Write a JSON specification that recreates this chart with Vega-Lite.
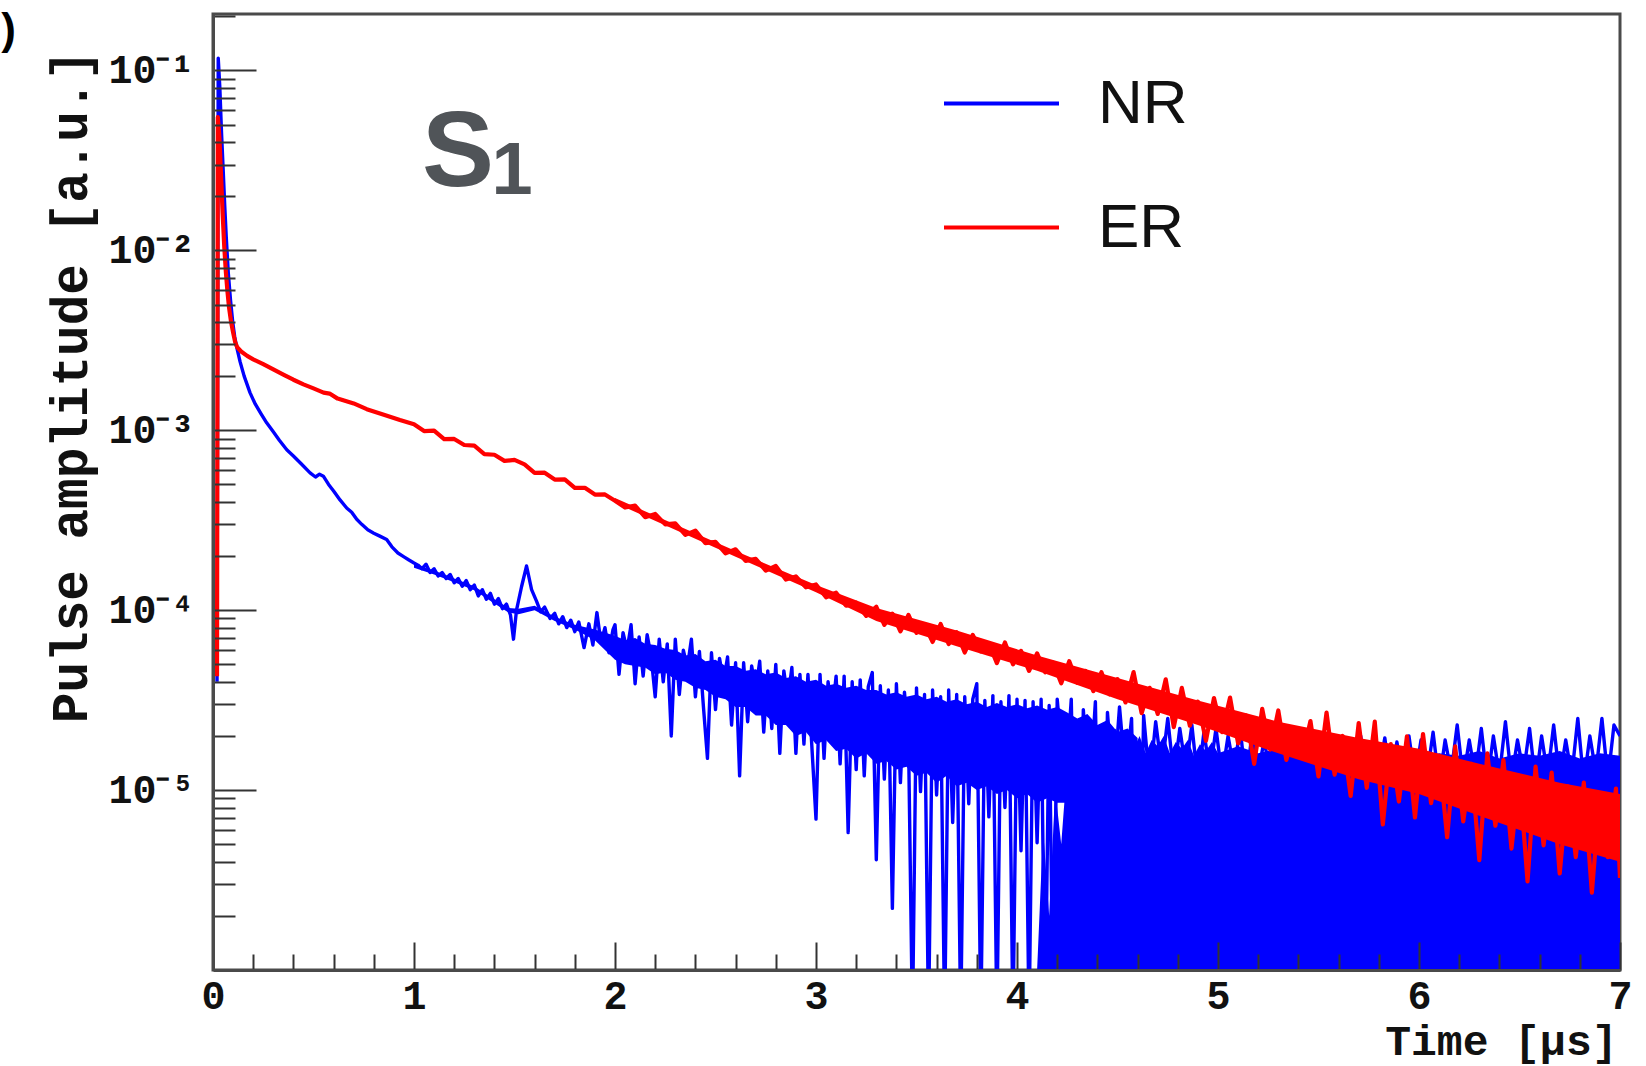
{
  "$schema": "https://vega.github.io/schema/vega-lite/v6.json",
  "width": 1407,
  "height": 956,
  "autosize": {"type": "none"},
  "padding": {"left": 213, "top": 14, "right": 26, "bottom": 96},
  "background": "#ffffff",
  "config": {"view": {"stroke": "#4a4a4a", "strokeWidth": 3}},
  "datasets": {
    "nr": [
      {"t":0.02,"v":4.0e-5},{"t":0.026,"v":0.117},{"t":0.034,"v":0.08},{"t":0.042,"v":0.046},{"t":0.05,"v":0.029},{"t":0.058,"v":0.018},{"t":0.066,"v":0.0118},{"t":0.076,"v":0.0075},{"t":0.087,"v":0.0053},{"t":0.098,"v":0.004},{"t":0.108,"v":0.0033},{"t":0.118,"v":0.0029},{"t":0.135,"v":0.0024},{"t":0.155,"v":0.002},{"t":0.184,"v":0.00162},{"t":0.21,"v":0.0014},{"t":0.24,"v":0.00123},{"t":0.267,"v":0.0011},{"t":0.3,"v":0.00098},{"t":0.33,"v":0.00088},{"t":0.367,"v":0.00078},{"t":0.4,"v":0.00072},{"t":0.44,"v":0.00065},{"t":0.483,"v":0.00058},{"t":0.51,"v":0.00055},{"t":0.53,"v":0.00057},{"t":0.549,"v":0.000556},{"t":0.575,"v":0.0005},{"t":0.6,"v":0.00046},{"t":0.632,"v":0.00041},{"t":0.665,"v":0.00037},{"t":0.69,"v":0.00035},{"t":0.715,"v":0.00032},{"t":0.74,"v":0.0003},{"t":0.77,"v":0.00028},{"t":0.8,"v":0.000268},{"t":0.83,"v":0.000258},{"t":0.864,"v":0.000247},{"t":0.89,"v":0.000225},{"t":0.92,"v":0.000208},{"t":0.95,"v":0.000198},{"t":0.975,"v":0.00019},{"t":1.0,"v":0.000183},
      {"t":1.02,"v":1.78e-4},{"t":1.04,"v":1.70e-4},{"t":1.06,"v":1.80e-4},{"t":1.08,"v":1.62e-4},{"t":1.10,"v":1.70e-4},{"t":1.12,"v":1.55e-4},{"t":1.14,"v":1.62e-4},{"t":1.16,"v":1.50e-4},{"t":1.18,"v":1.58e-4},{"t":1.20,"v":1.42e-4},{"t":1.22,"v":1.50e-4},{"t":1.24,"v":1.36e-4},{"t":1.26,"v":1.46e-4},{"t":1.28,"v":1.30e-4},{"t":1.30,"v":1.38e-4},{"t":1.32,"v":1.20e-4},{"t":1.34,"v":1.30e-4},{"t":1.36,"v":1.15e-4},{"t":1.38,"v":1.24e-4},{"t":1.40,"v":1.08e-4},{"t":1.42,"v":1.16e-4},{"t":1.44,"v":1.02e-4},{"t":1.46,"v":1.08e-4},{"t":1.48,"v":9.4e-5},{"t":1.495,"v":6.9e-5},{"t":1.51,"v":1.0e-4},{"t":1.535,"v":1.35e-4},{"t":1.56,"v":1.76e-4},{"t":1.585,"v":1.30e-4},{"t":1.61,"v":1.12e-4},{"t":1.63,"v":9.8e-5},{"t":1.65,"v":1.04e-4},{"t":1.677,"v":9.0e-5},{"t":1.70,"v":9.6e-5},{"t":1.72,"v":8.4e-5},{"t":1.74,"v":9.2e-5},{"t":1.76,"v":8.0e-5},{"t":1.78,"v":8.8e-5},{"t":1.80,"v":7.6e-5},{"t":1.82,"v":8.6e-5},{"t":1.846,"v":6.2e-5},{"t":1.87,"v":8.4e-5},{"t":1.89,"v":6.4e-5},{"t":1.91,"v":9.7e-5},{"t":1.93,"v":6.6e-5},{"t":1.95,"v":8.0e-5},{"t":1.97,"v":5.8e-5},{"t":1.99,"v":7.8e-5},
      {"t":2.0,"v":8.3e-5},{"t":2.02,"v":4.4e-5},{"t":2.04,"v":7.5e-5},{"t":2.06,"v":6.0e-5},{"t":2.08,"v":8.3e-5},{"t":2.1,"v":3.9e-5},{"t":2.12,"v":7.1e-5},{"t":2.14,"v":4.3e-5},{"t":2.16,"v":7.3e-5},{"t":2.18,"v":5.5e-5},{"t":2.2,"v":3.3e-5},{"t":2.22,"v":6.9e-5},{"t":2.24,"v":4.0e-5},{"t":2.26,"v":6.5e-5},{"t":2.28,"v":2.0e-5},{"t":2.3,"v":6.9e-5},{"t":2.32,"v":3.4e-5},{"t":2.34,"v":6.0e-5},{"t":2.36,"v":4.8e-5},{"t":2.38,"v":6.9e-5},{"t":2.4,"v":3.3e-5},{"t":2.42,"v":5.9e-5},{"t":2.44,"v":2.9e-5},{"t":2.46,"v":1.5e-5},{"t":2.48,"v":5.8e-5},{"t":2.5,"v":2.8e-5},{"t":2.52,"v":5.4e-5},{"t":2.54,"v":4.0e-5},{"t":2.56,"v":5.5e-5},{"t":2.58,"v":2.3e-5},{"t":2.6,"v":5.1e-5},{"t":2.62,"v":1.2e-5},{"t":2.64,"v":5.1e-5},{"t":2.66,"v":2.4e-5},{"t":2.68,"v":4.9e-5},{"t":2.7,"v":3.6e-5},{"t":2.72,"v":5.2e-5},{"t":2.74,"v":2.1e-5},{"t":2.76,"v":4.6e-5},{"t":2.78,"v":2.2e-5},{"t":2.8,"v":5.0e-5},{"t":2.82,"v":1.6e-5},{"t":2.84,"v":4.6e-5},{"t":2.86,"v":3.2e-5},{"t":2.88,"v":4.8e-5},{"t":2.9,"v":1.6e-5},{"t":2.92,"v":4.4e-5},{"t":2.94,"v":1.8e-5},{"t":2.96,"v":4.4e-5},{"t":2.98,"v":1.7e-5},{"t":3.0,"v":6.9e-6},{"t":3.02,"v":4.4e-5},{"t":3.04,"v":1.5e-5},{"t":3.06,"v":4.0e-5},{"t":3.08,"v":2.6e-5},{"t":3.1,"v":4.3e-5},{"t":3.12,"v":1.4e-5},{"t":3.14,"v":4.3e-5},{"t":3.16,"v":5.8e-6},{"t":3.18,"v":4.0e-5},{"t":3.2,"v":1.3e-5},{"t":3.22,"v":4.1e-5},{"t":3.24,"v":1.2e-5},{"t":3.26,"v":3.75e-5},{"t":3.28,"v":4.5e-5},{"t":3.3,"v":4.1e-6},{"t":3.32,"v":3.8e-5},{"t":3.34,"v":1.15e-5},{"t":3.36,"v":3.6e-5},{"t":3.38,"v":2.2e-6},{"t":3.4,"v":3.9e-5},{"t":3.42,"v":1.1e-5},{"t":3.44,"v":3.5e-5},{"t":3.46,"v":2.0e-5},{"t":3.48,"v":5e-7},{"t":3.5,"v":3.7e-5},{"t":3.52,"v":9.8e-6},{"t":3.54,"v":3.4e-5},{"t":3.56,"v":5e-7},{"t":3.58,"v":3.6e-5},{"t":3.6,"v":9.4e-6},{"t":3.62,"v":3.3e-5},{"t":3.64,"v":5e-7},{"t":3.66,"v":3.6e-5},{"t":3.68,"v":6.6e-6},{"t":3.7,"v":3.4e-5},{"t":3.72,"v":5e-7},{"t":3.74,"v":3.3e-5},{"t":3.76,"v":8.4e-6},{"t":3.78,"v":3.2e-5},{"t":3.8,"v":3.9e-5},{"t":3.82,"v":5e-7},{"t":3.84,"v":3.15e-5},{"t":3.86,"v":7.1e-6},{"t":3.88,"v":3.35e-5},{"t":3.9,"v":5e-7},{"t":3.92,"v":3.1e-5},{"t":3.94,"v":8.0e-6},{"t":3.96,"v":3.35e-5},{"t":3.98,"v":5e-7},{"t":4.0,"v":3.2e-5},{"t":4.02,"v":4.6e-6},{"t":4.04,"v":3.15e-5},{"t":4.06,"v":5e-7},{"t":4.08,"v":3.1e-5},{"t":4.1,"v":5.1e-6},{"t":4.12,"v":3.2e-5},{"t":4.14,"v":5e-7},{"t":4.16,"v":2.95e-5},{"t":4.18,"v":5e-7},{"t":4.2,"v":3.2e-5},
      {"t":4.24,"v":1.0e-5},{"t":4.27,"v":3.2e-5},{"t":4.3,"v":5e-7},{"t":4.33,"v":2.8e-5},{"t":4.36,"v":9.0e-6},{"t":4.39,"v":3.1e-5},{"t":4.42,"v":5e-7},{"t":4.45,"v":2.7e-5},{"t":4.48,"v":1.0e-5},{"t":4.51,"v":2.9e-5},{"t":4.54,"v":1.2e-5},{"t":4.57,"v":2.5e-5},{"t":4.6,"v":5e-7},{"t":4.63,"v":2.6e-5},{"t":4.66,"v":1.1e-5},{"t":4.69,"v":2.4e-5},{"t":4.72,"v":1.3e-5},{"t":4.75,"v":2.5e-5},{"t":4.78,"v":1.2e-5},{"t":4.81,"v":2.2e-5},{"t":4.84,"v":1.3e-5},{"t":4.87,"v":2.3e-5},{"t":4.9,"v":1.1e-5},{"t":4.93,"v":2.1e-5},{"t":4.96,"v":1.25e-5},{"t":4.99,"v":2.2e-5},{"t":5.02,"v":1.2e-5},{"t":5.05,"v":2.0e-5},{"t":5.08,"v":1.3e-5},{"t":5.11,"v":2.2e-5},{"t":5.14,"v":1.1e-5},{"t":5.17,"v":2.1e-5},{"t":5.2,"v":1.25e-5},{"t":5.23,"v":1.9e-5},{"t":5.26,"v":1.2e-5},{"t":5.29,"v":2.1e-5},{"t":5.32,"v":1.15e-5},{"t":5.35,"v":2.0e-5},{"t":5.38,"v":1.3e-5},{"t":5.41,"v":1.9e-5},{"t":5.44,"v":1.1e-5},{"t":5.47,"v":2.1e-5},{"t":5.5,"v":1.2e-5},{"t":5.53,"v":1.9e-5},{"t":5.56,"v":1.25e-5},{"t":5.59,"v":2.0e-5},{"t":5.62,"v":1.1e-5},{"t":5.65,"v":1.85e-5},{"t":5.68,"v":1.2e-5},{"t":5.71,"v":2.0e-5},{"t":5.74,"v":1.15e-5},{"t":5.77,"v":1.9e-5},{"t":5.8,"v":1.25e-5},{"t":5.83,"v":1.95e-5},{"t":5.86,"v":1.1e-5},{"t":5.89,"v":1.85e-5},{"t":5.92,"v":1.2e-5},{"t":5.95,"v":2.0e-5},{"t":5.98,"v":1.15e-5},{"t":6.01,"v":1.9e-5},{"t":6.04,"v":1.2e-5},{"t":6.07,"v":2.1e-5},{"t":6.1,"v":1.1e-5},{"t":6.13,"v":1.9e-5},{"t":6.16,"v":1.25e-5},{"t":6.19,"v":2.3e-5},{"t":6.22,"v":1.15e-5},{"t":6.25,"v":1.9e-5},{"t":6.28,"v":1.2e-5},{"t":6.31,"v":2.2e-5},{"t":6.34,"v":1.1e-5},{"t":6.37,"v":2.0e-5},{"t":6.4,"v":1.2e-5},{"t":6.43,"v":2.4e-5},{"t":6.46,"v":1.15e-5},{"t":6.49,"v":1.9e-5},{"t":6.52,"v":1.25e-5},{"t":6.55,"v":2.2e-5},{"t":6.58,"v":1.1e-5},{"t":6.61,"v":2.0e-5},{"t":6.64,"v":1.2e-5},{"t":6.67,"v":2.3e-5},{"t":6.7,"v":1.15e-5},{"t":6.73,"v":1.9e-5},{"t":6.76,"v":1.2e-5},{"t":6.79,"v":2.5e-5},{"t":6.82,"v":1.1e-5},{"t":6.85,"v":2.0e-5},{"t":6.88,"v":1.25e-5},{"t":6.91,"v":2.5e-5},{"t":6.94,"v":1.15e-5},{"t":6.97,"v":2.3e-5},{"t":7.0,"v":2.0e-5}
    ],
    "nrband": [
      {"t":1.0,"v":1.8e-4,"v2":1.72e-4},{"t":1.1,"v":1.66e-4,"v2":1.58e-4},{"t":1.2,"v":1.5e-4,"v2":1.43e-4},{"t":1.3,"v":1.36e-4,"v2":1.29e-4},{"t":1.4,"v":1.15e-4,"v2":1.09e-4},{"t":1.47,"v":1.03e-4,"v2":9.7e-5},{"t":1.52,"v":1.02e-4,"v2":9.5e-5},{"t":1.6,"v":1.06e-4,"v2":1.0e-4},{"t":1.7,"v":9.2e-5,"v2":8.7e-5},{"t":1.8,"v":8.3e-5,"v2":7.8e-5},{"t":1.9,"v":7.8e-5,"v2":6.8e-5},
      {"t":2.0,"v":7.2e-5,"v2":5.3e-5},{"t":2.05,"v":6.8e-5,"v2":5.0e-5},{"t":2.1,"v":7.0e-5,"v2":4.9e-5},{"t":2.15,"v":6.5e-5,"v2":4.8e-5},{"t":2.2,"v":6.4e-5,"v2":4.4e-5},{"t":2.25,"v":6.1e-5,"v2":4.5e-5},{"t":2.3,"v":6.0e-5,"v2":4.1e-5},{"t":2.35,"v":5.6e-5,"v2":4.0e-5},{"t":2.4,"v":5.7e-5,"v2":3.7e-5},{"t":2.45,"v":5.2e-5,"v2":3.6e-5},{"t":2.5,"v":5.3e-5,"v2":3.3e-5},{"t":2.55,"v":4.9e-5,"v2":3.2e-5},{"t":2.6,"v":4.9e-5,"v2":2.9e-5},{"t":2.65,"v":4.6e-5,"v2":2.9e-5},{"t":2.7,"v":4.7e-5,"v2":2.6e-5},{"t":2.75,"v":4.4e-5,"v2":2.6e-5},{"t":2.8,"v":4.5e-5,"v2":2.3e-5},{"t":2.85,"v":4.2e-5,"v2":2.3e-5},{"t":2.9,"v":4.3e-5,"v2":2.0e-5},{"t":2.95,"v":4.0e-5,"v2":2.1e-5},{"t":3.0,"v":4.1e-5,"v2":1.8e-5},{"t":3.05,"v":3.8e-5,"v2":1.9e-5},{"t":3.1,"v":3.9e-5,"v2":1.65e-5},{"t":3.15,"v":3.7e-5,"v2":1.7e-5},{"t":3.2,"v":3.8e-5,"v2":1.5e-5},{"t":3.25,"v":3.6e-5,"v2":1.6e-5},{"t":3.3,"v":3.6e-5,"v2":1.4e-5},{"t":3.35,"v":3.4e-5,"v2":1.45e-5},{"t":3.4,"v":3.5e-5,"v2":1.3e-5},{"t":3.45,"v":3.3e-5,"v2":1.35e-5},{"t":3.5,"v":3.4e-5,"v2":1.2e-5},{"t":3.55,"v":3.2e-5,"v2":1.25e-5},{"t":3.6,"v":3.3e-5,"v2":1.1e-5},{"t":3.65,"v":3.1e-5,"v2":1.2e-5},{"t":3.7,"v":3.2e-5,"v2":1.05e-5},{"t":3.75,"v":3.0e-5,"v2":1.1e-5},{"t":3.8,"v":3.1e-5,"v2":1.0e-5},{"t":3.85,"v":2.9e-5,"v2":1.05e-5},{"t":3.9,"v":3.05e-5,"v2":9.5e-6},{"t":3.95,"v":2.9e-5,"v2":1.0e-5},{"t":4.0,"v":3.0e-5,"v2":9.0e-6},{"t":4.05,"v":2.85e-5,"v2":9.5e-6},{"t":4.1,"v":2.95e-5,"v2":8.5e-6},{"t":4.15,"v":2.8e-5,"v2":9.0e-6},{"t":4.2,"v":2.9e-5,"v2":8.5e-6},{"t":4.25,"v":2.7e-5,"v2":8.5e-6},{"t":4.3,"v":2.5e-5,"v2":9.0e-6},{"t":4.35,"v":2.65e-5,"v2":9.5e-6},{"t":4.4,"v":2.3e-5,"v2":1.0e-5},{"t":4.45,"v":2.45e-5,"v2":1.05e-5},{"t":4.5,"v":2.1e-5,"v2":1.1e-5},{"t":4.55,"v":2.2e-5,"v2":1.2e-5},{"t":4.6,"v":1.95e-5,"v2":1.3e-5}
    ],
    "nrfill": [
      {"t":4.1,"v":1.0e-6},{"t":4.13,"v":6.0e-6},{"t":4.16,"v":2.0e-6},{"t":4.19,"v":1.0e-5},{"t":4.22,"v":5.0e-6},{"t":4.25,"v":1.4e-5},{"t":4.28,"v":8.0e-6},{"t":4.31,"v":1.8e-5},{"t":4.34,"v":1.2e-5},{"t":4.37,"v":2.1e-5},{"t":4.4,"v":1.6e-5},{"t":4.43,"v":2.3e-5},{"t":4.46,"v":1.9e-5},{"t":4.49,"v":2.2e-5},{"t":4.52,"v":1.8e-5},{"t":4.55,"v":2.1e-5},{"t":4.58,"v":1.7e-5},{"t":4.61,"v":2.0e-5},{"t":4.64,"v":1.6e-5},{"t":4.67,"v":1.9e-5},{"t":4.7,"v":1.75e-5},{"t":4.73,"v":2.0e-5},{"t":4.76,"v":1.6e-5},{"t":4.79,"v":1.85e-5},{"t":4.82,"v":1.7e-5},{"t":4.85,"v":1.9e-5},{"t":4.88,"v":1.55e-5},{"t":4.91,"v":1.8e-5},{"t":4.94,"v":1.65e-5},{"t":4.97,"v":1.85e-5},{"t":5.0,"v":1.6e-5},{"t":5.1,"v":1.75e-5},{"t":5.2,"v":1.6e-5},{"t":5.3,"v":1.7e-5},{"t":5.4,"v":1.55e-5},{"t":5.5,"v":1.65e-5},{"t":5.6,"v":1.5e-5},{"t":5.7,"v":1.6e-5},{"t":5.8,"v":1.5e-5},{"t":5.9,"v":1.6e-5},{"t":6.0,"v":1.5e-5},{"t":6.1,"v":1.6e-5},{"t":6.2,"v":1.55e-5},{"t":6.3,"v":1.65e-5},{"t":6.4,"v":1.5e-5},{"t":6.5,"v":1.6e-5},{"t":6.6,"v":1.55e-5},{"t":6.7,"v":1.65e-5},{"t":6.8,"v":1.5e-5},{"t":6.9,"v":1.6e-5},{"t":7.0,"v":1.55e-5}
    ],
    "er": [
      {"t":0.02,"v":4.3e-5},{"t":0.024,"v":0.055},{"t":0.032,"v":0.042},{"t":0.04,"v":0.026},{"t":0.048,"v":0.016},{"t":0.056,"v":0.0105},{"t":0.064,"v":0.0076},{"t":0.072,"v":0.0059},{"t":0.08,"v":0.0048},{"t":0.09,"v":0.004},{"t":0.1,"v":0.0035},{"t":0.11,"v":0.0031},{"t":0.12,"v":0.0029},{"t":0.14,"v":0.00274},{"t":0.17,"v":0.00259},{"t":0.2,"v":0.00248},{"t":0.25,"v":0.00233},{"t":0.3,"v":0.00218},{"t":0.35,"v":0.00204},{"t":0.4,"v":0.00191},{"t":0.45,"v":0.0018},{"t":0.5,"v":0.00171},{"t":0.55,"v":0.00162},{"t":0.58,"v":0.0016},{"t":0.62,"v":0.0015},{"t":0.7,"v":0.00141},{"t":0.765,"v":0.00131},{"t":0.85,"v":0.00122},{"t":0.93,"v":0.00114},
      {"t":1.0,"v":1.081e-3},{"t":1.05,"v":9.9e-4},{"t":1.1,"v":9.95e-4},{"t":1.15,"v":8.92e-4},{"t":1.2,"v":8.95e-4},{"t":1.25,"v":8.28e-4},{"t":1.3,"v":8.21e-4},{"t":1.35,"v":7.37e-4},{"t":1.4,"v":7.31e-4},{"t":1.45,"v":6.76e-4},{"t":1.5,"v":6.84e-4},{"t":1.55,"v":6.46e-4},{"t":1.6,"v":5.8e-4},{"t":1.65,"v":5.81e-4},{"t":1.7,"v":5.32e-4},{"t":1.75,"v":5.34e-4},{"t":1.8,"v":4.78e-4},{"t":1.85,"v":4.79e-4},{"t":1.9,"v":4.39e-4},{"t":1.95,"v":4.4e-4},{"t":2.0,"v":4.06e-4},{"t":2.05,"v":3.72e-4},{"t":2.1,"v":3.81e-4},{"t":2.15,"v":3.29e-4},{"t":2.2,"v":3.43e-4},{"t":2.25,"v":3.0e-4},{"t":2.3,"v":3.04e-4},{"t":2.35,"v":2.62e-4},{"t":2.4,"v":2.77e-4},{"t":2.45,"v":2.36e-4},{"t":2.5,"v":2.4e-4},{"t":2.55,"v":2.07e-4},{"t":2.6,"v":2.18e-4},{"t":2.65,"v":1.88e-4},{"t":2.7,"v":1.93e-4},{"t":2.75,"v":1.66e-4},{"t":2.8,"v":1.76e-4},{"t":2.85,"v":1.48e-4},{"t":2.9,"v":1.54e-4},{"t":2.95,"v":1.34e-4},{"t":3.0,"v":1.39e-4},{"t":3.05,"v":1.18e-4},{"t":3.1,"v":1.25e-4},{"t":3.15,"v":1.06e-4},{"t":3.2,"v":1.1e-4},{"t":3.25,"v":9.3e-5},
      {"t":3.3,"v":1.045e-4},{"t":3.34,"v":8.29e-5},{"t":3.38,"v":9.56e-5},{"t":3.42,"v":7.62e-5},{"t":3.46,"v":9.41e-5},{"t":3.5,"v":7.49e-5},{"t":3.54,"v":8.3e-5},{"t":3.58,"v":6.66e-5},{"t":3.62,"v":8.38e-5},{"t":3.66,"v":6.48e-5},{"t":3.7,"v":7.54e-5},{"t":3.74,"v":5.82e-5},{"t":3.78,"v":7.28e-5},{"t":3.82,"v":5.91e-5},{"t":3.86,"v":6.54e-5},{"t":3.9,"v":5.08e-5},{"t":3.94,"v":6.61e-5},{"t":3.98,"v":5.0e-5},{"t":4.02,"v":5.94e-5},{"t":4.06,"v":4.6e-5},{"t":4.1,"v":5.75e-5},{"t":4.14,"v":4.52e-5},{"t":4.18,"v":5.11e-5},{"t":4.22,"v":3.92e-5},{"t":4.26,"v":5.21e-5},{"t":4.3,"v":3.95e-5},{"t":4.34,"v":4.6e-5},{"t":4.38,"v":3.55e-5},{"t":4.42,"v":4.52e-5},{"t":4.46,"v":3.41e-5},{"t":4.5,"v":4.14e-5},
      {"t":4.54,"v":3.07e-5},{"t":4.58,"v":4.53e-5},{"t":4.62,"v":2.68e-5},{"t":4.66,"v":3.7e-5},{"t":4.7,"v":2.65e-5},{"t":4.74,"v":4.13e-5},{"t":4.78,"v":2.24e-5},{"t":4.82,"v":3.7e-5},{"t":4.86,"v":2.28e-5},{"t":4.9,"v":3.1e-5},{"t":4.94,"v":1.88e-5},{"t":4.98,"v":3.25e-5},{"t":5.02,"v":2.1e-5},{"t":5.06,"v":3.27e-5},{"t":5.1,"v":1.82e-5},{"t":5.14,"v":2.6e-5},{"t":5.18,"v":1.4e-5},{"t":5.22,"v":2.83e-5},{"t":5.26,"v":1.68e-5},{"t":5.3,"v":2.77e-5},{"t":5.34,"v":1.47e-5},{"t":5.38,"v":2.2e-5},{"t":5.42,"v":1.54e-5},{"t":5.46,"v":2.42e-5},{"t":5.5,"v":1.19e-5},
      {"t":5.54,"v":2.7e-5},{"t":5.58,"v":1.22e-5},{"t":5.62,"v":2.0e-5},{"t":5.66,"v":9.28e-6},{"t":5.7,"v":2.36e-5},{"t":5.74,"v":1.03e-5},{"t":5.78,"v":2.4e-5},{"t":5.82,"v":6.44e-6},{"t":5.86,"v":1.8e-5},{"t":5.9,"v":8.64e-6},{"t":5.94,"v":1.99e-5},{"t":5.98,"v":7.04e-6},{"t":6.02,"v":2.05e-5},{"t":6.06,"v":8.47e-6},{"t":6.1,"v":1.55e-5},{"t":6.14,"v":5.47e-6},{"t":6.18,"v":1.75e-5},{"t":6.22,"v":6.7e-6},{"t":6.26,"v":1.4e-5},{"t":6.3,"v":4.08e-6},{"t":6.34,"v":1.6e-5},{"t":6.38,"v":6.34e-6},{"t":6.42,"v":1.47e-5},{"t":6.46,"v":4.73e-6},{"t":6.5,"v":1.2e-5},{"t":6.54,"v":3.11e-6},{"t":6.58,"v":1.35e-5},{"t":6.62,"v":4.93e-6},{"t":6.66,"v":1.25e-5},{"t":6.7,"v":3.44e-6},{"t":6.74,"v":1.05e-5},{"t":6.78,"v":4.24e-6},{"t":6.82,"v":1.1e-5},{"t":6.86,"v":2.69e-6},{"t":6.9,"v":9.5e-6},{"t":6.94,"v":4.24e-6},{"t":6.98,"v":1.02e-5},{"t":7.0,"v":3.25e-6}
    ],
    "erband": [
      {"t":2.0,"v":4.2e-4,"v2":3.95e-4},{"t":2.6,"v":2.13e-4,"v2":1.98e-4},{"t":3.0,"v":1.38e-4,"v2":1.26e-4},{"t":3.3,"v":1.03e-4,"v2":8.7e-5},{"t":3.7,"v":7.7e-5,"v2":6.3e-5},{"t":4.1,"v":5.6e-5,"v2":4.6e-5},{"t":4.5,"v":4.2e-5,"v2":3.2e-5},{"t":4.9,"v":3.15e-5,"v2":2.3e-5},{"t":5.3,"v":2.4e-5,"v2":1.6e-5},{"t":5.7,"v":1.95e-5,"v2":1.15e-5},{"t":6.0,"v":1.7e-5,"v2":9.5e-6},{"t":6.3,"v":1.4e-5,"v2":7.2e-6},{"t":6.7,"v":1.1e-5,"v2":5.0e-6},{"t":7.0,"v":9.5e-6,"v2":4.0e-6}
    ]
  },
  "encoding": {
    "x": {
      "field": "t", "type": "quantitative",
      "scale": {"domain": [0, 7], "nice": false, "zero": false},
      "axis": {
        "title": "Time [µs]",
        "values": [0,0.2,0.4,0.6,0.8,1,1.2,1.4,1.6,1.8,2,2.2,2.4,2.6,2.8,3,3.2,3.4,3.6,3.8,4,4.2,4.4,4.6,4.8,5,5.2,5.4,5.6,5.8,6,6.2,6.4,6.6,6.8,7],
        "labelExpr": "abs(datum.value - round(datum.value)) < 0.001 ? format(datum.value, 'd') : ''",
        "tickSize": {"condition": {"test": "abs(datum.value - round(datum.value)) < 0.001", "value": -28}, "value": -16},
        "tickColor": "#333333", "tickWidth": 2,
        "domain": true, "domainColor": "#4a4a4a", "domainWidth": 3,
        "grid": false,
        "labelFont": "Liberation Mono", "labelFontWeight": "bold", "labelFontSize": 40, "labelColor": "#111111",
        "labelPadding": 34, "labelFlush": false, "labelOverlap": false, "labelBaseline": "top",
        "titleFont": "Liberation Mono", "titleFontWeight": "bold", "titleFontSize": 43, "titleColor": "#111111",
        "titleX": 1404, "titleY": 84, "titleAlign": "right", "titleBaseline": "alphabetic",
        "zindex": 1
      }
    },
    "y": {
      "field": "v", "type": "quantitative",
      "scale": {"type": "log", "domain": [1e-6, 0.206], "nice": false},
      "axis": {
        "title": "Pulse amplitude [a.u.]",
        "values": [2e-6,3e-6,4e-6,5e-6,6e-6,7e-6,8e-6,9e-6,1e-5,2e-5,3e-5,4e-5,5e-5,6e-5,7e-5,8e-5,9e-5,1e-4,2e-4,3e-4,4e-4,5e-4,6e-4,7e-4,8e-4,9e-4,0.001,0.002,0.003,0.004,0.005,0.006,0.007,0.008,0.009,0.01,0.02,0.03,0.04,0.05,0.06,0.07,0.08,0.09,0.1,0.2],
        "labelExpr": "datum.value == 0.1 ? '10⁻¹' : datum.value == 0.01 ? '10⁻²' : datum.value == 0.001 ? '10⁻³' : datum.value == 0.0001 ? '10⁻⁴' : datum.value == 0.00001 ? '10⁻⁵' : ''",
        "tickSize": {"condition": {"test": "abs(log(datum.value)/LN10 - round(log(datum.value)/LN10)) < 0.001", "value": -43}, "value": -22},
        "tickColor": "#333333", "tickWidth": 2,
        "domain": true, "domainColor": "#4a4a4a", "domainWidth": 3,
        "grid": false,
        "labelFont": "Liberation Mono", "labelFontWeight": "bold", "labelFontSize": 40, "labelColor": "#111111",
        "labelPadding": 62, "labelFlush": false, "labelOverlap": false, "labelBaseline": "middle", "labelAlign": "right",
        "titleFont": "Liberation Mono", "titleFontWeight": "bold", "titleFontSize": 51, "titleColor": "#111111",
        "titleX": -142, "titleY": 372, "titleAngle": -90, "titleAlign": "center", "titleBaseline": "middle",
        "zindex": 1
      }
    }
  },
  "layer": [
    {
      "data": {"name": "nrfill"},
      "mark": {"type": "area", "color": "#0000ff", "clip": true, "opacity": 1},
      "encoding": {"y2": {"datum": 1e-6}}
    },
    {
      "data": {"name": "nrband"},
      "mark": {"type": "area", "color": "#0000ff", "clip": true, "opacity": 1},
      "encoding": {"y2": {"field": "v2"}}
    },
    {
      "data": {"name": "nr"},
      "mark": {"type": "line", "strokeWidth": 3.4, "strokeJoin": "round", "clip": true},
      "encoding": {
        "color": {
          "datum": "NR", "type": "nominal",
          "scale": {"domain": ["NR", "ER"], "range": ["#0000ff", "#ff0000"]},
          "legend": {"orient": "none", "legendX": 729, "legendY": 30, "title": null, "symbolType": "stroke", "symbolSize": 13225, "symbolStrokeWidth": 4, "labelFont": "Liberation Sans", "labelFontSize": 62, "labelColor": "#111111", "labelOffset": 37, "rowPadding": 33, "padding": 0}
        }
      }
    },
    {
      "data": {"name": "erband"},
      "mark": {"type": "area", "color": "#ff0000", "clip": true, "opacity": 1},
      "encoding": {"y2": {"field": "v2"}}
    },
    {
      "data": {"name": "er"},
      "mark": {"type": "line", "strokeWidth": 4.2, "strokeJoin": "round", "clip": true},
      "encoding": {
        "color": {
          "datum": "ER", "type": "nominal",
          "legend": {"orient": "none", "legendX": 729, "legendY": 30, "title": null, "symbolType": "stroke", "symbolSize": 13225, "symbolStrokeWidth": 4, "labelFont": "Liberation Sans", "labelFontSize": 62, "labelColor": "#111111", "labelOffset": 37, "rowPadding": 33, "padding": 0}
        }
      }
    },
    {
      "data": {"values": [{"t": 1.04, "v": 0.02265, "label": "S"}]},
      "mark": {"type": "text", "font": "Liberation Sans", "fontWeight": "bold", "fontSize": 108, "color": "#505458", "align": "left", "baseline": "alphabetic"},
      "encoding": {"text": {"field": "label"}}
    },
    {
      "data": {"values": [{"t": 1.385, "v": 0.0205, "label": "1"}]},
      "mark": {"type": "text", "font": "Liberation Sans", "fontWeight": "bold", "fontSize": 74, "color": "#505458", "align": "left", "baseline": "alphabetic"},
      "encoding": {"text": {"field": "label"}}
    },
    {
      "data": {"values": [{"t": -0.98, "v": 0.141, "label": ")"}]},
      "mark": {"type": "text", "font": "Liberation Sans", "fontWeight": "bold", "fontSize": 44, "color": "#000000", "align": "right", "baseline": "alphabetic"},
      "encoding": {"text": {"field": "label"}}
    }
  ]
}
